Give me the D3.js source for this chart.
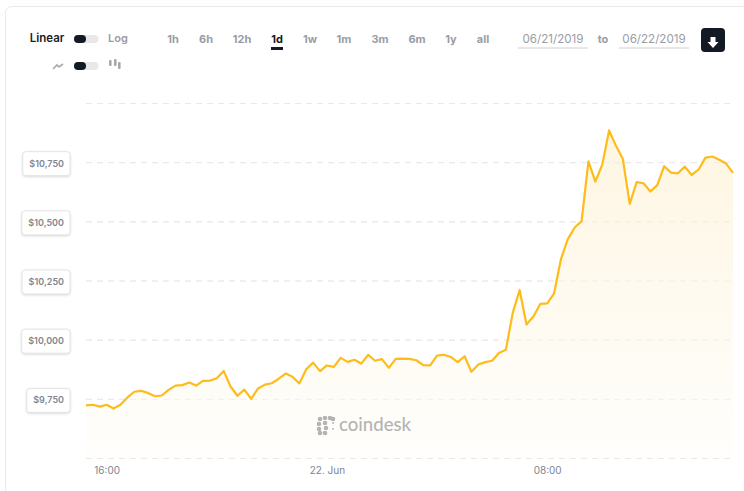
<!DOCTYPE html>
<html><head><meta charset="utf-8">
<script src="https://cdn.jsdelivr.net/npm/d3@7"></script>
<style>
html,body{margin:0;padding:0;background:#fff;overflow:hidden}
svg{display:block;font-family:Inter,"Open Sans",sans-serif}
.domain{display:none}
</style></head><body><div id="chart"></div>
<script>
const prices=[9722,9725,9717,9725,9709,9725,9755,9780,9784,9775,9761,9764,9788,9806,9808,9819,9806,9826,9827,9837,9868,9802,9763,9789,9750,9794,9810,9816,9835,9857,9843,9815,
9875,9903,9867,9891,9885,9923,9906,9915,9899,9936,9911,9918,9881,9919,9920,9919,9913,9892,9891,9933,9936,9927,9905,9930,9864,9895,9905,9911,9944,9957,10113,10210,10064,10098,10151,10153,10195,10340,10425,10474,10501,10753,10668,10739,10884,10819,10763,10574,10666,10661,10626,10653,10733,10706,10703,10731,10696,10719,10769,10774,10760,10744,10705];
const startTime=Date.UTC(2019,5,21,15,15);
const stepMinutes=15;
const priceTicks=[9750,10000,10250,10500,10750];
const gridValues=[9500,9750,10000,10250,10500,10750,11000];
const timeTicks=[Date.UTC(2019,5,21,16,0),Date.UTC(2019,5,22,0,0),Date.UTC(2019,5,22,8,0)];
const timeLabels=["16:00","22. Jun","08:00"];
const rangeButtons=["1h","6h","12h","1d","1w","1m","3m","6m","1y","all"];
const rangeX=[173,206,242,277,310,344,380,417,451,483];
const dateFrom="06/21/2019", dateTo="06/22/2019";

const W=744,H=491;
const svg=d3.select("#chart").append("svg").attr("width",W).attr("height",H);
const times=prices.map((_,i)=>new Date(startTime+i*stepMinutes*60000));
const x=d3.scaleUtc().domain([times[0],times[times.length-1]]).range([86,733]);
const y=d3.scaleLinear().domain([9500,11000]).range([458,103]);

// card
svg.append("rect").attr("x",5.5).attr("y",6.5).attr("width",760).attr("height",520).attr("rx",6)
  .attr("fill","#fff").attr("stroke","#e9e9e9").attr("stroke-width",1);

const defs=svg.append("defs");
const g=defs.append("linearGradient").attr("id","fillGrad").attr("x1",0).attr("x2",0).attr("y1",0).attr("y2",1);
g.append("stop").attr("offset","0%").attr("stop-color","#fef6e2");
g.append("stop").attr("offset","100%").attr("stop-color","#fffefc");

// grid
svg.append("g").selectAll("line").data(gridValues).join("line")
  .attr("x1",86).attr("x2",733).attr("y1",d=>y(d)+.5).attr("y2",d=>y(d)+.5)
  .attr("stroke","#e8e8e8").attr("stroke-dasharray","6 5");

// area + line
const area=d3.area().x((d,i)=>x(times[i])).y0(458).y1(d=>y(d));
const line=d3.line().x((d,i)=>x(times[i])).y(d=>y(d));
svg.append("path").datum(prices).attr("d",area).attr("fill","url(#fillGrad)");
svg.append("g").selectAll("line").data(gridValues).join("line")
  .attr("x1",86).attr("x2",733).attr("y1",d=>y(d)+.5).attr("y2",d=>y(d)+.5)
  .attr("stroke","#e8e8e8").attr("stroke-opacity",.7).attr("stroke-dasharray","6 5");
svg.append("path").datum(prices).attr("d",line).attr("fill","none").attr("stroke","#fdbc1a").attr("stroke-width",2.2).attr("stroke-linejoin","round");

// y axis labels in boxes
const yAxis=svg.append("g").attr("transform","translate(64,1)")
  .call(d3.axisLeft(y).tickValues(priceTicks).tickSize(0).tickPadding(0).tickFormat(d3.format("$,")));
yAxis.selectAll("text").attr("font-family","Inter,sans-serif").attr("font-size",9).attr("font-weight",600).attr("fill","#83868d");
yAxis.selectAll(".tick").each(function(){
  const t=d3.select(this), w=t.select("text").node().getComputedTextLength();
  t.insert("rect","text").attr("x",-w-6.5).attr("y",-12).attr("width",w+12.5).attr("height",24).attr("rx",3)
   .attr("fill","#fff").attr("stroke","#e4e4e4").style("filter","drop-shadow(0 1px 1px rgba(0,0,0,.14))");
});

// x axis
const xAxis=svg.append("g").attr("transform","translate(0,458)")
  .call(d3.axisBottom(x).tickValues(timeTicks).tickSize(0).tickPadding(9).tickFormat((d,i)=>timeLabels[i]));
xAxis.selectAll("text").attr("font-family","Inter,sans-serif").attr("font-size",10).attr("fill","#7d8494");

// logo
const logo=svg.append("g").attr("fill","#b4b4b4");
[[320,419],[325,418],[330,418],[333,419],[319,424],[319,429],[320,433],[325,433],[326,428],[325,423],[333,429],[333,423]].forEach(p=>{
  logo.append("circle").attr("cx",p[0]).attr("cy",p[1]).attr("r",p[0]==333&&p[1]!=419?1:2.3);
});
logo.append("text").attr("x",339).attr("y",431).attr("font-family","Lato,sans-serif").attr("font-size",18.6).attr("font-weight",500).text("coindesk");

// controls
const txt=(x0,y0,s,o={})=>svg.append("text").attr("x",x0).attr("y",y0).attr("text-anchor",o.anchor||"middle")
  .attr("font-size",o.size||11).attr("font-weight",o.weight||600).attr("fill",o.fill||"#9a9da3").text(s);
txt(47,42,"Linear",{fill:"#1a2028",size:11.5});
txt(118,42,"Log",{size:11});
const toggle=yy=>{
  svg.append("rect").attr("x",74).attr("y",yy).attr("width",24.5).attr("height",8).attr("rx",4).attr("fill","#e8e8e8");
  svg.append("rect").attr("x",74).attr("y",yy).attr("width",12).attr("height",8).attr("rx",4).attr("fill","#141a24");
};
toggle(35);toggle(62);
svg.append("path").attr("d","M53 69 L57 65 L59 67 L63 64").attr("fill","none").attr("stroke","#a8a8a8").attr("stroke-width",1.6);
[[109,60,6],[114,59,7],[118,62,7]].forEach(b=>svg.append("rect").attr("x",b[0]).attr("y",b[1]).attr("width",2.6).attr("height",b[2]).attr("rx",1).attr("fill","#a8a8a8"));
rangeButtons.forEach((b,i)=>txt(rangeX[i],43,b,{fill:b=="1d"?"#141a24":"#9a9da3",weight:700}));
svg.append("rect").attr("x",271).attr("y",47).attr("width",12).attr("height",3).attr("fill","#141a24");
txt(553,43,dateFrom,{weight:400,fill:"#9a9da3",size:11.6});
txt(603,43,"to",{weight:700});
txt(654,43,dateTo,{weight:400,fill:"#9a9da3",size:11.6});
svg.append("line").attr("x1",518).attr("x2",588).attr("y1",48).attr("y2",48).attr("stroke","#cfcfcf");
svg.append("line").attr("x1",619).attr("x2",689).attr("y1",48).attr("y2",48).attr("stroke","#cfcfcf");
svg.append("rect").attr("x",701).attr("y",28).attr("width",24).attr("height",24).attr("rx",4).attr("fill","#141a24");
svg.append("path").attr("d","M710.5 37h5v5h3l-5.5 6l-5.5-6h3z").attr("fill","#fff");
</script></body></html>
